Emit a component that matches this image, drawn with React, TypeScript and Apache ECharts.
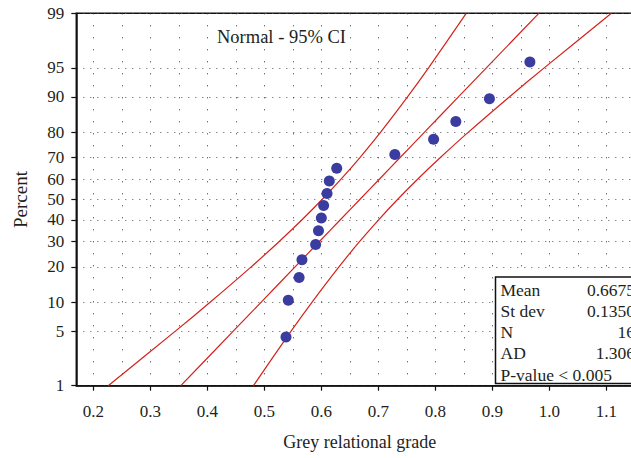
import React, { useEffect, useRef } from "react";
import * as echarts from "echarts";

// ---- data ----
const xTickValues = [0.2, 0.3, 0.4, 0.5, 0.6, 0.7, 0.8, 0.9, 1.0, 1.1];
const xGridValues = [0.2, 0.25, 0.3, 0.35, 0.4, 0.45, 0.5, 0.55, 0.6, 0.65, 0.7, 0.75, 0.8, 0.85, 0.9, 0.95, 1.0, 1.05, 1.1, 1.15];
const percentTicks = [1, 5, 10, 20, 30, 40, 50, 60, 70, 80, 90, 95, 99];

const gradeValues = [0.538, 0.542, 0.561, 0.566, 0.590, 0.595, 0.600, 0.604, 0.610, 0.614, 0.627, 0.729, 0.797, 0.836, 0.895, 0.966];
const gradePercents = [4.3, 10.4, 16.5, 22.6, 28.7, 34.8, 40.9, 47.0, 53.0, 59.1, 65.2, 71.3, 77.4, 83.5, 89.6, 95.7];

const bandPercents = [1, 5, 10, 20, 30, 40, 50, 60, 70, 80, 90, 95, 99];
const fitLine = [0.3534, 0.4454, 0.4945, 0.5539, 0.5967, 0.6333, 0.6675, 0.7017, 0.7383, 0.7811, 0.8405, 0.8896, 0.9816];
const lowerCI = [0.2260, 0.3439, 0.4052, 0.4769, 0.5261, 0.5661, 0.6013, 0.6345, 0.6677, 0.7041, 0.7512, 0.7881, 0.8542];
const upperCI = [0.4808, 0.5469, 0.5838, 0.6309, 0.6673, 0.7005, 0.7337, 0.7689, 0.8089, 0.8581, 0.9298, 0.9911, 1.1090];

const statLabels = ["Mean", "St dev", "N", "AD", "P-value < 0.005"];
const statValues = ["0.6675", "0.1350", "16", "1.306", ""];
const titleText = "Normal - 95% CI";

// ---- probability-scale transform (percent -> normal quantile) ----
function normInv(p: number): number {
  const a = [-3.969683028665376e1, 2.209460984245205e2, -2.759285104469687e2, 1.38357751867269e2, -3.066479806614716e1, 2.506628277459239];
  const b = [-5.447609879822406e1, 1.615858368580409e2, -1.556989798598866e2, 6.680131188771972e1, -1.328068155288572e1];
  const c = [-7.784894002430293e-3, -3.223964580411365e-1, -2.400758277161838, -2.549732539343734, 4.374664141464968, 2.938163982698783];
  const d = [7.784695709041462e-3, 3.224671290700398e-1, 2.445134137142996, 3.754408661907416];
  const plow = 0.02425;
  if (p < plow) {
    const q = Math.sqrt(-2 * Math.log(p));
    return (((((c[0] * q + c[1]) * q + c[2]) * q + c[3]) * q + c[4]) * q + c[5]) / ((((d[0] * q + d[1]) * q + d[2]) * q + d[3]) * q + 1);
  }
  if (p <= 1 - plow) {
    const q = p - 0.5;
    const r = q * q;
    return ((((((a[0] * r + a[1]) * r + a[2]) * r + a[3]) * r + a[4]) * r + a[5]) * q) / (((((b[0] * r + b[1]) * r + b[2]) * r + b[3]) * r + b[4]) * r + 1);
  }
  const q = Math.sqrt(-2 * Math.log(1 - p));
  return -(((((c[0] * q + c[1]) * q + c[2]) * q + c[3]) * q + c[4]) * q + c[5]) / ((((d[0] * q + d[1]) * q + d[2]) * q + d[3]) * q + 1);
}
const zOf = (pct: number) => normInv(pct / 100);

const FONT = "'Liberation Serif', 'DejaVu Serif', serif";
const TEXT = "#231f20";
const RED = "#d4221b";
const CHART_W = 662;
const CHART_H = 458;

export default function App() {
  const ref = useRef<HTMLDivElement>(null);

  useEffect(() => {
    if (!ref.current) return;
    const chart = echarts.init(ref.current, undefined, { renderer: "svg" });
    const yTickZ = percentTicks.map(zOf);
    const zMin = zOf(percentTicks[0]);
    const zMax = zOf(percentTicks[percentTicks.length - 1]);
    const xMin = 0.17;
    const xMax = 1.165;

    const lineSeries = (name: string, vals: number[]) => ({
      name,
      type: "line",
      data: bandPercents.map((p, i) => [vals[i], zOf(p)]),
      smooth: 0.25,
      symbol: "none",
      silent: true,
      lineStyle: { color: RED, width: 1.2 },
      z: 3,
    });

    const statRowY = [289.5, 310.8, 332, 353.3, 374.5];

    chart.setOption({
      animation: false,
      backgroundColor: "#ffffff",
      grid: {
        left: 76.3,
        top: 13.3,
        right: CHART_W - 643.3,
        bottom: CHART_H - 385.7,
        show: true,
        borderColor: "#111",
        borderWidth: 1.5,
        backgroundColor: "transparent",
      },
      xAxis: [
        {
          type: "value",
          min: xMin,
          max: xMax,
          position: "bottom",
          axisLine: { show: true, onZero: false, lineStyle: { color: "#111", width: 1.5 } },
          axisTick: { show: true, length: 5, customValues: xTickValues, lineStyle: { color: "#111", width: 1.2 } },
          axisLabel: {
            customValues: xTickValues,
            formatter: (v: number) => v.toFixed(1),
            fontFamily: FONT,
            fontSize: 17,
            color: TEXT,
            margin: 17,
          },
          splitLine: { show: false },
          name: "Grey relational grade",
          nameLocation: "middle",
          nameGap: 47,
          nameTextStyle: { fontFamily: FONT, fontSize: 18, color: TEXT },
        },
        {
          type: "value",
          min: xMin,
          max: xMax,
          position: "bottom",
          axisLine: { show: false },
          axisTick: { show: false, customValues: xGridValues },
          axisLabel: { show: false, customValues: xGridValues },
          splitLine: { show: true, lineStyle: { color: "#333", width: 1, type: [1, 11] } },
        },
      ],
      yAxis: {
        type: "value",
        min: zMin,
        max: zMax,
        axisLine: { show: true, onZero: false, lineStyle: { color: "#111", width: 1.5 } },
        axisTick: { show: true, length: 5, customValues: yTickZ, lineStyle: { color: "#111", width: 1.2 } },
        axisLabel: {
          customValues: yTickZ,
          formatter: (v: number) => {
            let best = 0;
            for (let i = 0; i < yTickZ.length; i++) {
              if (Math.abs(yTickZ[i] - v) < Math.abs(yTickZ[best] - v)) best = i;
            }
            return String(percentTicks[best]);
          },
          fontFamily: FONT,
          fontSize: 17,
          color: TEXT,
          margin: 12,
        },
        splitLine: { show: true, lineStyle: { color: "#555", width: 1, type: [1, 6] } },
        name: "Percent",
        nameLocation: "middle",
        nameGap: 46,
        nameRotate: 90,
        nameTextStyle: { fontFamily: FONT, fontSize: 19, color: TEXT },
      },
      series: [
        lineSeries("Lower CI", lowerCI),
        lineSeries("Fit", fitLine),
        lineSeries("Upper CI", upperCI),
        {
          name: "Grey relational grade",
          type: "scatter",
          data: gradeValues.map((v, i) => [v, zOf(gradePercents[i])]),
          symbol: "circle",
          symbolSize: 11,
          itemStyle: { color: "#3a3d9f", opacity: 1 },
          z: 4,
        },
      ],
      graphic: [
        {
          type: "text",
          left: 217,
          top: 27,
          z: 50,
          style: { text: titleText, font: `18.5px ${FONT}`, fill: TEXT },
        },
        {
          type: "group",
          z: 100,
          children: [
            {
              type: "rect",
              shape: { x: 495.5, y: 277, width: 160, height: 106.5 },
              style: { fill: "#ffffff", stroke: "#111", lineWidth: 1.5 },
              z: 100,
            },
            ...statLabels.map((t, i) => ({
              type: "text",
              x: 500.5,
              y: statRowY[i],
              z: 101,
              style: { text: t, font: `17.5px ${FONT}`, fill: TEXT, textAlign: "left", textVerticalAlign: "middle" },
            })),
            ...statValues.map((t, i) => ({
              type: "text",
              x: 635,
              y: statRowY[i],
              z: 101,
              style: { text: t, font: `17.5px ${FONT}`, fill: TEXT, textAlign: "right", textVerticalAlign: "middle" },
            })),
          ],
        },
      ],
    });
    return () => chart.dispose();
  }, []);

  return (
    <div style={{ position: "fixed", left: 0, top: 0, width: 631, height: 458, overflow: "hidden", background: "#fff" }}>
      <div ref={ref} style={{ width: CHART_W, height: CHART_H }} />
    </div>
  );
}
